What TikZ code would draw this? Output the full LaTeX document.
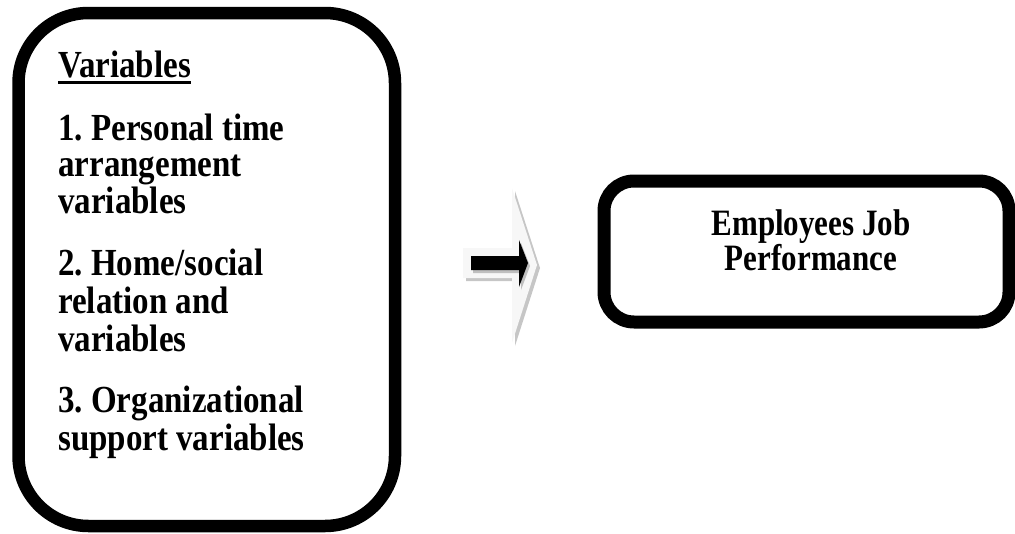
\documentclass[tikz,border=0pt]{standalone}
\usepackage{fontspec}
\usepackage{graphicx}
\setmainfont{Liberation Serif}
\frenchspacing
\newcommand{\tallL}[1]{\scalebox{1}[1.16]{#1}}
\newcommand{\tallR}[1]{\scalebox{1}[1.2]{#1}}
\begin{document}
\begin{tikzpicture}[x=1pt,y=-1pt,
  bigbox/.style={draw=black, line width=12.5pt, rounded corners=70pt, inner sep=0pt},
  smallbox/.style={draw=black, line width=13pt, rounded corners=30pt, inner sep=0pt},
  lefttext/.style={anchor=base west, inner sep=0pt, font=\fontsize{33}{37}\selectfont\bfseries},
  righttext/.style={anchor=base, inner sep=0pt, align=center, font=\fontsize{31}{34.5}\selectfont\bfseries}]
\useasboundingbox (0,0) rectangle (1015,533);
% boxes
\node[bigbox, minimum width=376.5pt, minimum height=513pt] (vars) at (206.75,269.5) {};
\node[smallbox, minimum width=405pt, minimum height=141pt] (perf) at (806.5,251.5) {};
% left text
\node[lefttext] (v) at (58,77) {\tallL{Variables}};
\draw[line width=3.5pt] ([yshift=-5.5pt]v.base west) -- ([yshift=-5.5pt]v.base east);
\node[lefttext] (a1) at (58,140) {\tallL{1. Personal time}};
\node[lefttext] (a2) at (58,176) {\tallL{arrangement}};
\node[lefttext] (a3) at (58,213) {\tallL{variables}};
\node[lefttext] (b1) at (58,275) {\tallL{2. Home/social}};
\node[lefttext] (b2) at (58,313) {\tallL{relation and}};
\node[lefttext] (b3) at (58,351) {\tallL{variables}};
\node[lefttext] (c1) at (58,412) {\tallL{3. Organizational}};
\node[lefttext] (c2) at (58,450) {\tallL{support variables}};
% right text
\node[righttext] (p) at (811,270) {\tallR{Employees Job}\\\tallR{Performance}};
% pale 3D arrow with shadow
\fill[gray!45] (466,251) -- (515,251) -- (515,191) -- (540,268) -- (515,346) -- (515,281) -- (466,281) -- cycle;
\fill[gray!6] (463,248) -- (512,248) -- (512,188) -- (537,265) -- (512,343) -- (512,278) -- (463,278) -- cycle;
% black arrow with small shadow
\fill[gray!50] (473,259) -- (521,259) -- (521,243) -- (530,266) -- (521,290) -- (521,273) -- (473,273) -- cycle;
\fill[black] (471,256) -- (519,256) -- (519,240) -- (528,263) -- (519,287) -- (519,270) -- (471,270) -- cycle;
\end{tikzpicture}
\end{document}
